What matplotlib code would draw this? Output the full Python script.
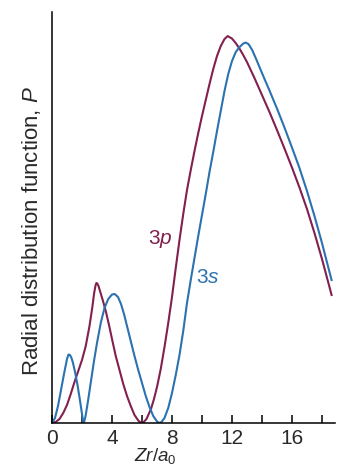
import matplotlib

matplotlib.use("Agg")
import matplotlib.pyplot as plt

plt.rcParams["font.family"] = ["Liberation Sans", "DejaVu Sans"]
plt.rcParams["mathtext.fontset"] = "custom"
plt.rcParams["mathtext.rm"] = "Liberation Sans"
plt.rcParams["mathtext.it"] = "Liberation Sans:italic"

# Radial distribution function (arbitrary units)
r_3s = [0.0, 0.2, 0.4, 0.6, 0.8, 1.0, 1.1, 1.2, 1.3, 1.4, 1.55, 1.7, 1.85, 2.0, 2.06, 2.11,
        2.16, 2.25, 2.4, 2.6, 2.8, 3.0, 3.25, 3.5, 3.75, 4.0, 4.18, 4.4, 4.6, 4.8, 5.0,
        5.25, 5.5, 5.75, 6.0, 6.25, 6.5, 6.75, 7.0, 7.15, 7.3, 7.5, 7.75, 8.0, 8.25, 8.5,
        8.75, 9.0, 9.25, 9.5, 9.75, 10.0, 10.25, 10.5, 10.75, 11.0, 11.25, 11.5, 11.75,
        12.0, 12.25, 12.5, 12.75, 12.91, 13.1, 13.35, 13.64, 14.0, 14.5, 15.0, 15.5, 16.0,
        16.5, 17.0, 17.5, 18.0, 18.5, 18.64]
p_3s = [0, 5, 17, 33, 49, 64, 68.5, 68, 65, 60, 50, 38, 24, 9, 3, 0,
        2, 8, 22, 42, 62, 80, 100, 115, 124, 128.5, 129, 126, 119, 109, 97,
        82, 67, 53, 40, 27, 16, 7, 1.5, 0, 1, 5, 15, 30, 48, 68,
        92, 120, 143, 165, 187, 208, 229, 251, 271, 292, 312, 332, 349,
        362, 371, 376, 379.5, 380.5, 379, 373, 363, 350, 332.5, 314.5, 295.5, 275.5,
        255, 232, 207, 180, 151, 143]

r_3p = [0.0, 0.25, 0.5, 0.75, 1.0, 1.25, 1.5, 1.75, 2.0, 2.25, 2.5, 2.7, 2.8, 2.9, 2.96,
        3.02, 3.1, 3.2, 3.4, 3.6, 3.8, 4.0, 4.25, 4.5, 4.75, 5.0, 5.25, 5.5, 5.75, 5.93,
        6.1, 6.3, 6.42, 6.6, 6.8, 7.0, 7.25, 7.5, 7.75, 8.0, 8.25, 8.5, 8.75, 9.0, 9.25,
        9.5, 9.75, 10.0, 10.25, 10.5, 10.75, 11.0, 11.25, 11.5, 11.71, 12.0, 12.25, 12.5,
        12.75, 13.0, 13.25, 13.5, 13.75, 14.0, 14.5, 15.0, 15.5, 16.0, 16.5, 17.0, 17.5,
        18.0, 18.5, 18.64]
p_3p = [0, 1, 4, 10, 18, 29, 41, 52, 63, 77, 97, 117, 129, 137.5, 140,
        139.5, 137, 132, 122, 111, 98, 84, 67, 53, 39, 27, 17, 8, 2.5, 0,
        0.7, 4, 8, 14, 24, 36, 54, 76, 100, 126, 155, 183, 209, 233, 253,
        272, 290, 307, 323, 339, 354, 367, 377, 384, 387, 384.5, 380, 374.5,
        368, 361, 353, 345, 336.5, 328, 311, 293, 274.5, 255.5, 235.5, 214, 190,
        164, 136, 128]

x_ticks = [0, 2, 4, 6, 8, 10, 12, 14, 16, 18]
x_tick_labels = ["0", "", "4", "", "8", "", "12", "", "16", ""]

color_3s = "#2b72b0"
color_3p = "#82204e"
text_color = "#2a2a2a"

fig = plt.figure(figsize=(3.41, 4.68), dpi=100, facecolor="white")
ax = fig.add_axes([0.1525, 0.0962, 0.830, 0.878])

ax.plot(r_3p, p_3p, color=color_3p, lw=1.5, solid_joinstyle="round")
ax.plot(r_3s, p_3s, color=color_3s, lw=1.5, solid_joinstyle="round")

ax.set_xlim(0, 18.87)
ax.set_ylim(0, 411)

ax.spines["top"].set_visible(False)
ax.spines["right"].set_visible(False)
ax.spines["left"].set_linewidth(1.1)
ax.spines["bottom"].set_linewidth(1.1)

ax.set_yticks([])
ax.set_xticks(x_ticks)
ax.set_xticklabels(x_tick_labels)
ax.tick_params(axis="x", direction="in", length=6, width=1.1, pad=4,
               labelsize=15, labelcolor=text_color)

ax.text(0.364, -0.08, r"$Zr/a_0$", transform=ax.transAxes, ha="center", va="center",
        fontsize=13.5, color=text_color)
ax.text(-0.071, 0.467, r"Radial distribution function, $P$", transform=ax.transAxes,
        rotation=90, ha="center", va="center", fontsize=16, color=text_color)

ax.text(7.2, 184, r"3$p$", color=color_3p, fontsize=15, ha="center", va="center")
ax.text(10.4, 146, r"3$s$", color=color_3s, fontsize=15, ha="center", va="center")

plt.savefig("out.png", dpi=100, facecolor="white")
plt.close()
